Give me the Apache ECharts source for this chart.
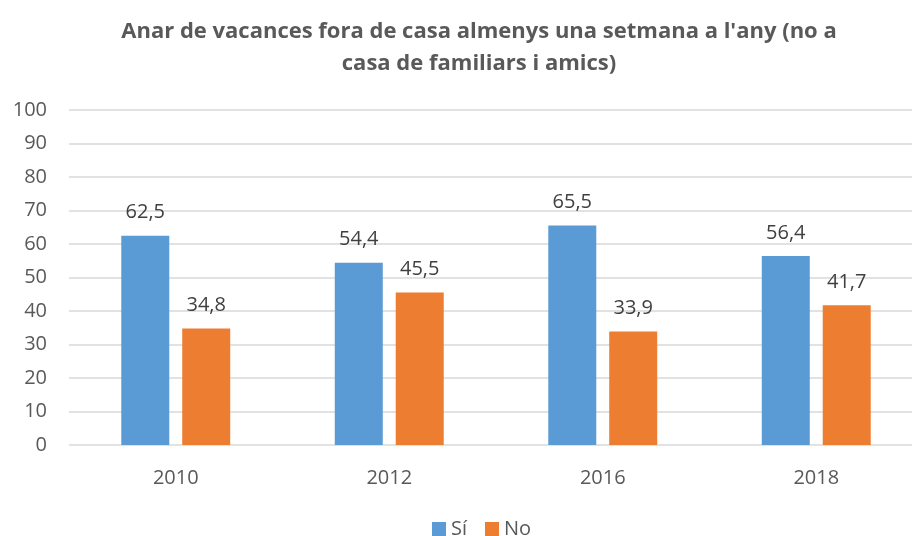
<!DOCTYPE html>
<html>
<head>
<meta charset="utf-8">
<script src="https://cdn.jsdelivr.net/npm/echarts@6/dist/echarts.min.js"></script>
<style>
  html, body { margin: 0; padding: 0; background: #fff; }
  #main { width: 912px; height: 536px; }
</style>
</head>
<body>
<div id="main"></div>
<script>
// dades
const years = ['2010', '2012', '2016', '2018'];
const si = [62.5, 54.4, 65.5, 56.4];
const no = [34.8, 45.5, 33.9, 41.7];

const font = '"Open Sans", "Noto Sans", sans-serif';

const labelStyle = {
  show: true,
  position: 'top',
  distance: 13,
  color: '#404040',
  fontSize: 20,
  fontFamily: font,
  formatter: p => String(p.value).replace('.', ',')
};

const option = {
  animation: false,
  textStyle: { fontFamily: font },
  title: {
    text: "Anar de vacances fora de casa almenys una setmana a l'any (no a\ncasa de familiars i amics)",
    left: 474,
    top: 11,
    textAlign: 'center',
    textStyle: {
      color: '#595959',
      fontSize: 22,
      fontWeight: 'bold',
      lineHeight: 32,
      fontFamily: font
    }
  },
  legend: {
    top: 514,
    left: 427,
    icon: 'rect',
    itemWidth: 14,
    itemHeight: 14,
    itemGap: 18,
    textStyle: { color: '#595959', fontSize: 20, fontFamily: font }
  },
  grid: {
    left: 69,
    right: -11,
    top: 110,
    bottom: 91,
    outerBoundsMode: 'none'
  },
  xAxis: {
    type: 'category',
    data: years,
    axisLine: { show: false },
    axisTick: { show: false },
    axisLabel: { color: '#595959', fontSize: 20, margin: 23, fontFamily: font }
  },
  yAxis: {
    type: 'value',
    min: 0,
    max: 100,
    interval: 10,
    axisLabel: { color: '#595959', fontSize: 20, margin: 22, fontFamily: font },
    splitLine: { lineStyle: { color: '#D9D9D9', width: 1.5 } }
  },
  series: [
    {
      name: 'Sí',
      type: 'bar',
      data: si,
      barWidth: 48,
      barGap: '27%',
      itemStyle: { color: '#5B9BD5' },
      label: labelStyle
    },
    {
      name: 'No',
      type: 'bar',
      data: no,
      barWidth: 48,
      barGap: '27%',
      itemStyle: { color: '#ED7D31' },
      label: labelStyle
    }
  ]
};

const chart = echarts.init(document.getElementById('main'));
chart.setOption(option);
</script>
</body>
</html>
